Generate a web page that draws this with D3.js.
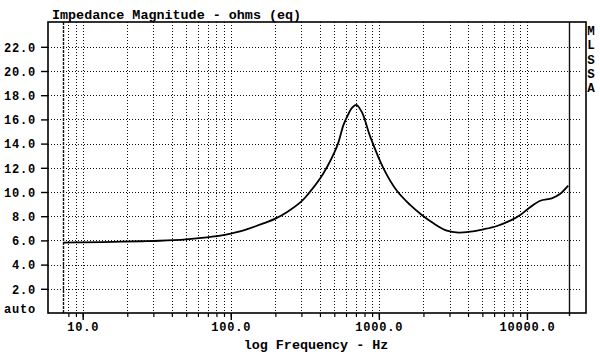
<!DOCTYPE html>
<html><head><meta charset="utf-8">
<script src="https://cdn.jsdelivr.net/npm/d3@7"></script>
<style>body{margin:0;background:#fff}svg{display:block}</style>
</head><body>
<svg id="c" width="600" height="356"></svg>
<script>
// ---- data ----
const freqs = [7.4, 10, 16, 25, 33, 50, 69, 89, 100, 128, 166, 200, 239, 300, 334, 400, 446, 500, 533, 577, 620, 658, 703, 768, 873, 1074, 1324, 1626, 1950, 2339, 2878, 3450, 4140, 5090, 6270, 7710, 9010, 10500, 12300, 14700, 16700, 19000];
const ohms  = [5.82, 5.84, 5.88, 5.93, 5.97, 6.09, 6.25, 6.43, 6.57, 6.92, 7.40, 7.80, 8.33, 9.22, 9.85, 11.10, 12.05, 13.25, 14.10, 15.55, 16.40, 16.95, 17.20, 16.60, 14.60, 11.96, 10.10, 8.93, 8.10, 7.41, 6.80, 6.64, 6.72, 6.92, 7.19, 7.63, 8.10, 8.74, 9.28, 9.48, 9.83, 10.52];
const yTickValues = [0, 2, 4, 6, 8, 10, 12, 14, 16, 18, 20, 22];
const yTickLabels = ["auto", "2.0", "4.0", "6.0", "8.0", "10.0", "12.0", "14.0", "16.0", "18.0", "20.0", "22.0"];
const xGridValues = [8, 9, 10, 20, 30, 40, 50, 60, 70, 80, 90, 100, 200, 300, 400, 500, 600, 700, 800, 900, 1000, 2000, 3000, 4000, 5000, 6000, 7000, 8000, 9000, 10000];
const xMajorValues = [10, 100, 1000, 10000];
const xMajorLabels = ["10.0", "100.0", "1000.0", "10000.0"];
const xDomain = [5.83, 25050];
const yDomain = [0, 24];
const dataMarkers = [7.4, 19200];
const titleText = "Impedance Magnitude - ohms (eq)";
const xTitleText = "log Frequency - Hz";
const sideLetters = ["M", "L", "S", "S", "A"];

// ---- layout ----
const L = 48, R = 586, T = 22, B = 313;
const svg = d3.select("#c");
const FONT = "'Liberation Mono', 'DejaVu Sans Mono', monospace";

const x = d3.scaleLog().domain(xDomain).range([L, R]);
const y = d3.scaleLinear().domain(yDomain).range([B, T + 0.6]);

// grid
const grid = svg.append("g").attr("stroke", "#111").attr("stroke-width", 1).attr("stroke-dasharray", "1,2");
grid.selectAll("line.h").data(yTickValues.filter(v => v > 0)).join("line")
  .attr("x1", L).attr("x2", 580)
  .attr("y1", d => Math.round(y(d)) + 0.5).attr("y2", d => Math.round(y(d)) + 0.5);
grid.selectAll("line.v").data(xGridValues).join("line")
  .attr("y1", T).attr("y2", B)
  .attr("x1", d => Math.round(x(d)) + 0.5).attr("x2", d => Math.round(x(d)) + 0.5);

// data range markers
svg.append("line").attr("x1", Math.round(x(dataMarkers[0])) + 0.5).attr("x2", Math.round(x(dataMarkers[0])) + 0.5)
  .attr("y1", T).attr("y2", B).attr("stroke", "#111").attr("stroke-width", 1.4).attr("stroke-dasharray", "3,1");
svg.append("line").attr("x1", Math.round(x(dataMarkers[1])) + 0.5).attr("x2", Math.round(x(dataMarkers[1])) + 0.5)
  .attr("y1", T).attr("y2", B + 3).attr("stroke", "#111").attr("stroke-width", 1.4);

// frame
svg.append("rect").attr("x", L).attr("y", T).attr("width", R - L).attr("height", B - T)
  .attr("fill", "none").attr("stroke", "#000").attr("stroke-width", 1.6);

// y axis
const yAxis = d3.axisLeft(y).tickValues(yTickValues).tickSize(7).tickPadding(5)
  .tickFormat((d, i) => yTickLabels[i]);
const gy = svg.append("g").attr("transform", `translate(${L},0)`).call(yAxis);
gy.select(".domain").remove();
gy.selectAll(".tick line").attr("stroke", "#000").attr("stroke-width", 1.4)
  .style("display", d => d === 0 ? "none" : null);
gy.selectAll(".tick text").attr("font-family", FONT).attr("font-weight", "bold").attr("font-size", 12)
  .attr("letter-spacing", 0.8).attr("fill", "#000").attr("x", -12)
  .attr("dy", d => d === 0 ? "-0.05em" : "0.36em");

// x axis minor ticks
const xMinor = d3.axisBottom(x).tickValues(xGridValues).tickSize(4).tickFormat("");
const gxm = svg.append("g").attr("transform", `translate(0,${B})`).call(xMinor);
gxm.select(".domain").remove();
gxm.selectAll(".tick line").attr("stroke", "#000").attr("stroke-width", 1.2);

// x axis major ticks + labels
const xMajor = d3.axisBottom(x).tickValues(xMajorValues).tickSize(7).tickPadding(4)
  .tickFormat((d, i) => xMajorLabels[i]);
const gx = svg.append("g").attr("transform", `translate(0,${B})`).call(xMajor);
gx.select(".domain").remove();
gx.selectAll(".tick line").attr("stroke", "#000").attr("stroke-width", 1.4);
gx.selectAll(".tick text").attr("font-family", FONT).attr("font-weight", "bold").attr("font-size", 12)
  .attr("letter-spacing", 0.8).attr("fill", "#000").attr("dy", "0.55em");

// curve
const pts = freqs.map((f, i) => ({ f, v: ohms[i] }));
const line = d3.line().x(d => x(d.f)).y(d => y(d.v)).curve(d3.curveCatmullRom.alpha(0.5));
svg.append("path").datum(pts).attr("d", line).attr("fill", "none")
  .attr("stroke", "#000").attr("stroke-width", 1.8).attr("stroke-linejoin", "round");

// titles
svg.append("text").attr("x", 52).attr("y", 18.5).text(titleText)
  .attr("font-family", FONT).attr("font-weight", "bold").attr("font-size", 13.4).attr("fill", "#000");
svg.append("text").attr("x", 316).attr("y", 349).attr("text-anchor", "middle").text(xTitleText)
  .attr("font-family", FONT).attr("font-weight", "bold").attr("font-size", 13.4).attr("fill", "#000");

// side letters
svg.append("g").selectAll("text").data(sideLetters).join("text")
  .attr("x", 591).attr("y", (d, i) => 35 + i * 14.3).attr("text-anchor", "middle").text(d => d)
  .attr("font-family", FONT).attr("font-weight", "bold").attr("font-size", 12.5).attr("fill", "#000");
</script>
</body></html>
